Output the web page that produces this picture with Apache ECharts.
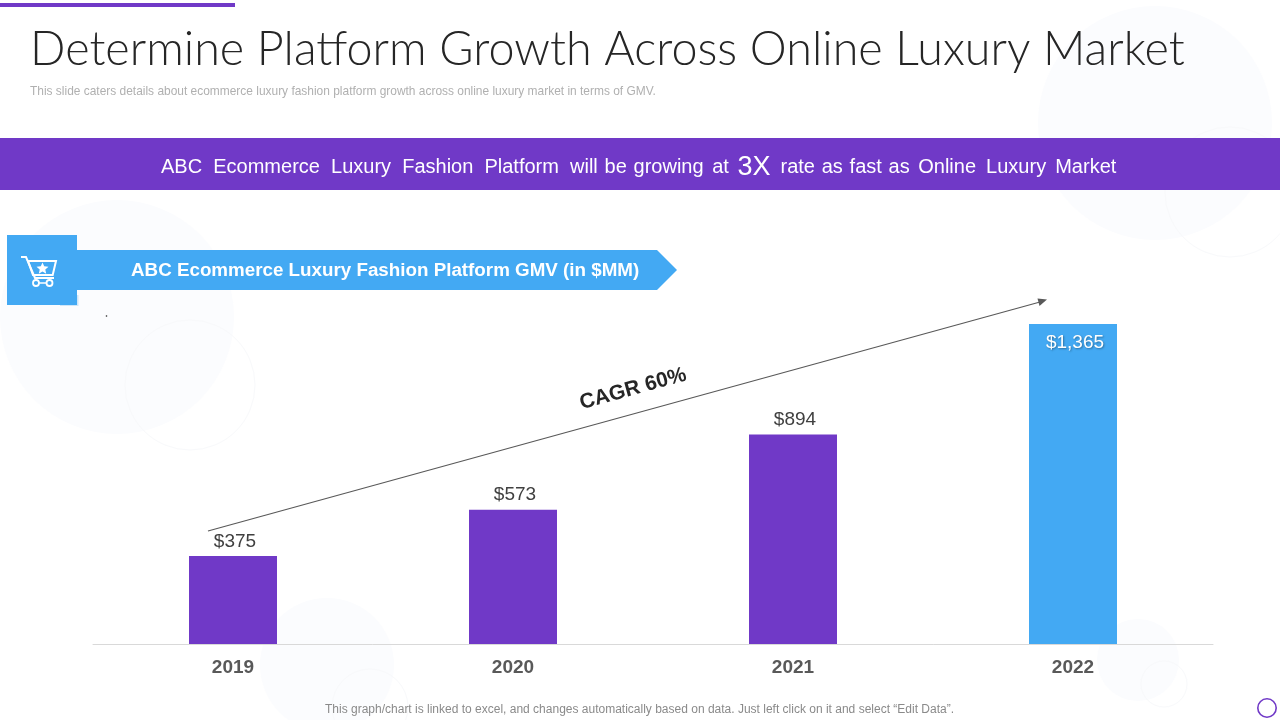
<!DOCTYPE html>
<html><head><meta charset="utf-8">
<style>html,body{margin:0;padding:0;background:#fff}#c{width:1280px;height:720px}</style>
<script src="https://cdn.jsdelivr.net/npm/echarts@6/dist/echarts.min.js"></script>
</head><body><div id="c"></div>
<script>
const categories = ['2019','2020','2021','2022'];
const gmvValues = [375,573,894,1365];
const valueLabels = ['$375','$573','$894','$1,365'];
const titleText = 'Determine Platform Growth Across Online Luxury Market';
const subtitleText = 'This slide caters details about ecommerce luxury fashion platform growth across online luxury market in terms of GMV.';
const footerText = 'This graph/chart is linked to excel, and changes automatically based on data. Just left click on it and select “Edit Data”.';
const PURPLE='#7039c7', BLUE='#43a9f3', PALE='#fbfcfe', RING='#f8f9fb';
const chart = echarts.init(document.getElementById('c'),null,{renderer:'canvas'});
const disc=(cx,cy,r)=>({type:'circle',silent:true,z:-10,shape:{cx,cy,r},style:{fill:PALE}});
const ring=(cx,cy,r)=>({type:'circle',silent:true,z:-9,shape:{cx,cy,r},style:{fill:'transparent',stroke:RING,lineWidth:1}});
const white='#ffffff';
const seg=(t,k)=>'{'+k+'|'+t+'}';
const gap=(p)=>({fontSize:20,fontFamily:'Liberation Sans',fill:white,color:white,padding:[0,p,0,0]});
chart.setOption({
  animation:false,
  backgroundColor:'#ffffff',
  grid:{left:93,right:67,top:324,height:320,containLabel:false},
  xAxis:{type:'category',data:categories,
    axisLine:{lineStyle:{color:'#d9d9d9',width:1}},axisTick:{show:false},
    axisLabel:{color:'#595959',fontFamily:'Liberation Sans',fontWeight:'bold',fontSize:19,margin:14}},
  yAxis:{type:'value',min:0,max:1365,show:false,splitLine:{show:false}},
  series:[{type:'bar',barWidth:88,z:5,
    data:gmvValues.map((v,i)=>({value:v,
      itemStyle:{color:i===3?BLUE:PURPLE},
      label:i===3?{position:'insideTop',distance:9,offset:[2,0],color:'#ffffff',textShadowColor:'rgba(0,0,0,.35)',textShadowBlur:2,textShadowOffsetX:1,textShadowOffsetY:1}:{position:'top',distance:5,offset:[2,0],color:'#404040'}})),
    label:{show:true,fontFamily:'Liberation Sans',fontSize:19,formatter:p=>valueLabels[p.dataIndex]}
  }],
  graphic:[
    disc(117,317,117),disc(1155,123,117),disc(327,665,67),disc(1138,660,41),
    ring(190,385,65),ring(1230,192,65),ring(370,707,38),ring(1164,684,23),
    {type:'rect',shape:{x:0,y:3,width:235,height:4},style:{fill:PURPLE}},
    {type:'text',left:30,top:26,style:{text:titleText,fill:'#262626',font:'300 46.7px Lato, "Noto Sans", sans-serif'}},
    {type:'text',left:30,top:85.5,style:{text:subtitleText,fill:'#b0b0b0',font:'11.95px "Liberation Sans"'}},
    {type:'rect',z:1,shape:{x:0,y:138,width:1280,height:52},style:{fill:PURPLE}},
    {type:'text',z:2,left:161,top:154,style:{
      text:seg('ABC  Ecommerce  Luxury  Fashion  Platform  will','a')+seg(' ','s')+seg('be','a')+seg(' ','s')+seg('growing','a')+seg(' ','u')+seg('at','a')+seg(' ','u')+seg('3X','b')+seg(' ','t')+seg('rate','a')+seg(' ','s')+seg('as','a')+seg(' ','s')+seg('fast','a')+seg(' ','s')+seg('as','a')+seg(' ','u')+seg('Online','a')+seg(' ','v')+seg('Luxury','a')+seg(' ','w')+seg('Market','a'),
      rich:{a:{fontSize:20,fontFamily:'Liberation Sans',fill:white,color:white},
            s:gap(1.2),u:gap(3),t:gap(4.5),v:gap(4.5),w:gap(3.5),
            b:{fontSize:27,fontFamily:'Liberation Sans',fill:white,color:white}}}},
    {type:'polygon',z:1,shape:{points:[[62,250],[657,250],[677,270],[657,290],[62,290]]},style:{fill:BLUE}},
    {type:'rect',z:1,shape:{x:60,y:295,width:18.5,height:11},style:{fill:'#cfe6f8'}},
    {type:'rect',z:2,shape:{x:7,y:235,width:70,height:70},style:{fill:BLUE}},
    {type:'text',z:3,left:131,top:261.5,style:{text:'ABC Ecommerce Luxury Fashion Platform GMV (in $MM)',fill:white,font:'bold 18.8px "Liberation Sans"'}},
    {type:'polyline',z:3,shape:{points:[[21,257],[26,257],[35,278],[54,278]]},style:{stroke:white,fill:'transparent',lineWidth:2}},
    {type:'polygon',z:3,shape:{points:[[28,261],[56,261],[52.7,275],[33,275]]},style:{fill:'transparent',stroke:white,lineWidth:2}},
    {type:'polygon',z:3,shape:{points:[[42.5,262.5],[44.2,266.3],[48.5,266.8],[45.3,269.5],[46.2,273.7],[42.5,271.5],[38.8,273.7],[39.7,269.5],[36.5,266.8],[40.8,266.3]]},style:{fill:white}},
    {type:'circle',z:3,shape:{cx:36,cy:283,r:3},style:{fill:'transparent',stroke:white,lineWidth:1.8}},
    {type:'circle',z:3,shape:{cx:49.5,cy:283,r:3},style:{fill:'transparent',stroke:white,lineWidth:1.8}},
    {type:'line',z:3,shape:{x1:39,y1:283,x2:46.5,y2:283},style:{stroke:white,lineWidth:1.5}},
    {type:'circle',shape:{cx:106.5,cy:316,r:0.8},style:{fill:'#222'}},
    {type:'line',z:6,shape:{x1:208,y1:531,x2:1040,y2:302},style:{stroke:'#595959',lineWidth:1.2}},
    {type:'polygon',z:6,shape:{points:[[1047,299.5],[1037.5,298.5],[1039.5,306]]},style:{fill:'#595959'}},
    {type:'text',z:6,x:633,y:389,rotation:0.27,style:{text:'CAGR 60%',fill:'#262626',font:'bold 21px "Liberation Sans"',align:'center',verticalAlign:'middle'}},
    {type:'text',left:325,top:703.5,style:{text:footerText,fill:'#8a8a8a',font:'12px "Liberation Sans"'}},
    {type:'circle',shape:{cx:1267,cy:708,r:9.2},style:{fill:'#fff',stroke:PURPLE,lineWidth:1.6}}
  ]
});
</script></body></html>
